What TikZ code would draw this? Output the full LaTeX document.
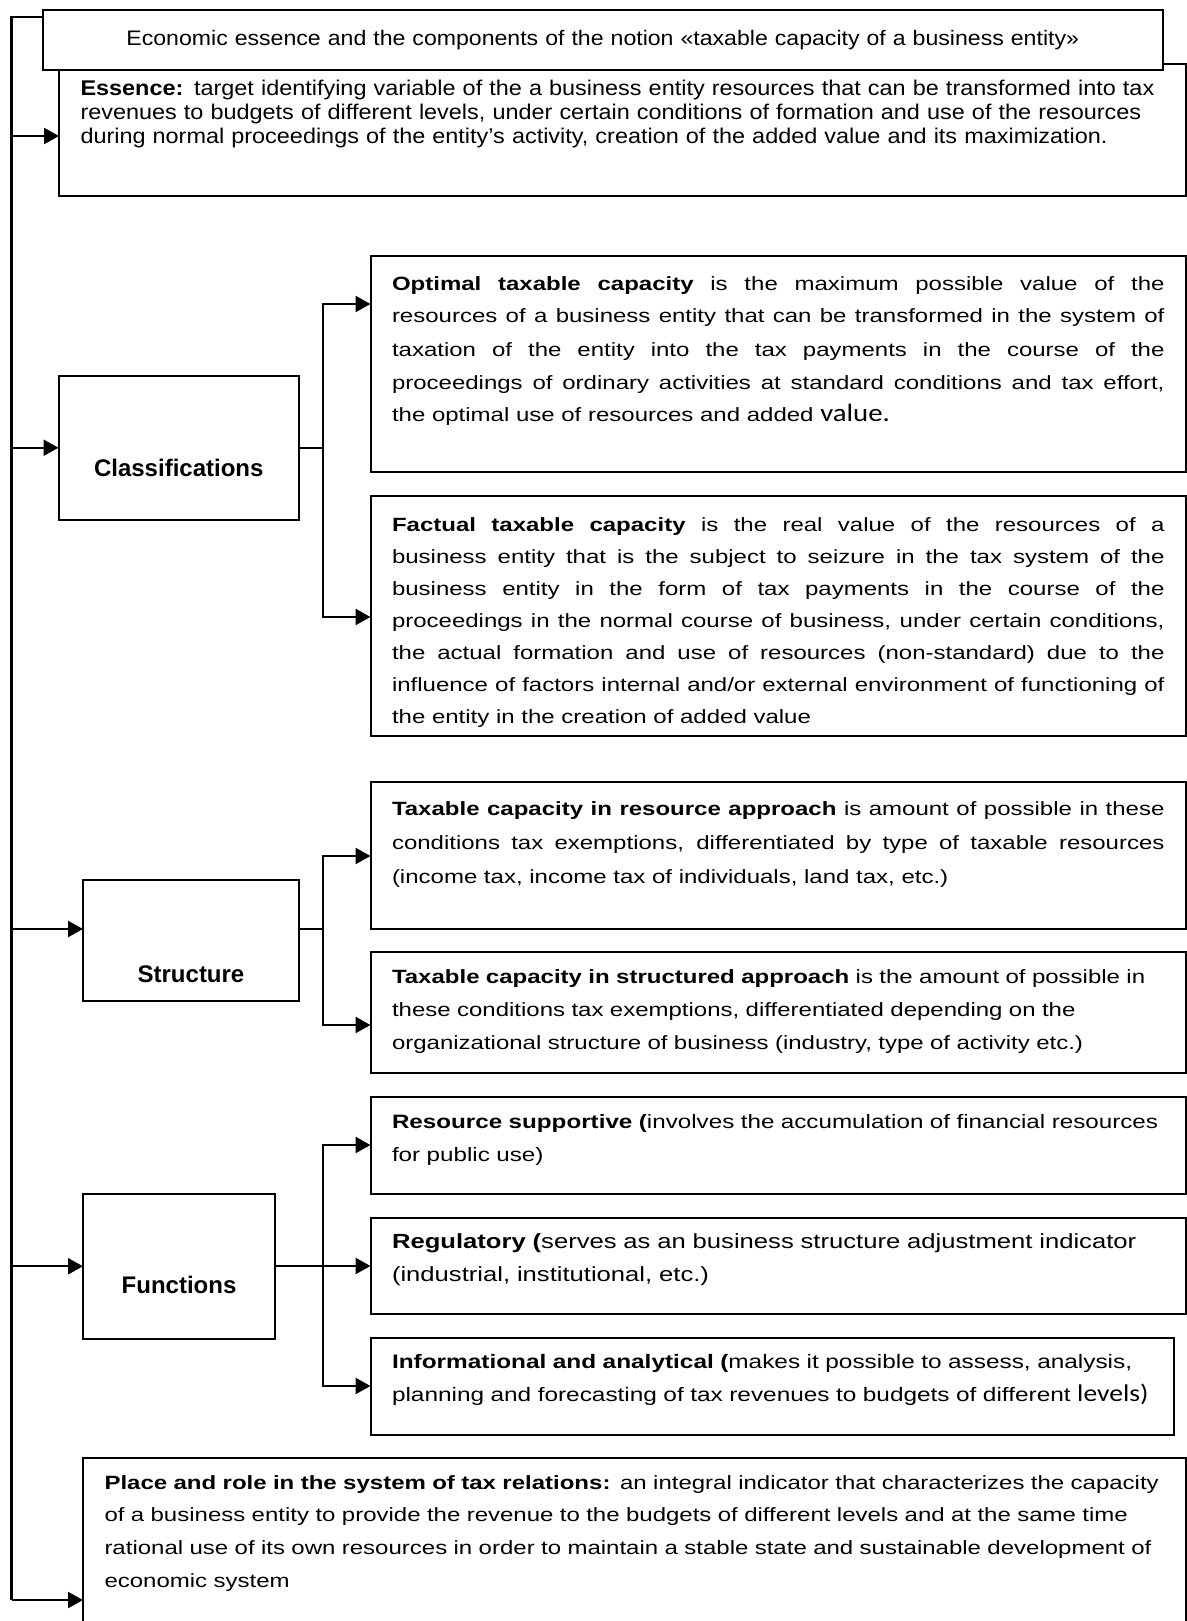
\documentclass[tikz,border=0pt]{standalone}
\usepackage{fontspec}
\setmainfont{Liberation Sans}
\newfontfamily\wide[FakeStretch=1.25]{Liberation Sans}
\newfontfamily\titlewide[FakeStretch=1.1]{Liberation Sans}
\newfontfamily\calibri[FakeStretch=1.15]{Carlito}
\usetikzlibrary{arrows.meta}

\tikzset{
  box/.style={draw, line width=1pt, fill=white, anchor=north west, outer sep=0pt,
    inner ysep=0pt, inner xsep=10.75pt, align=left},
  jbox/.style={box, align=justify},
  head/.style={draw, line width=1pt, anchor=north west, outer sep=0pt, inner sep=0pt,
    align=center, font=\bfseries\fontsize{12}{14}\selectfont},
  trunk/.style={line width=1.2pt},
  arr/.style={-{Triangle[length=7.5pt,width=8pt]}, line width=1.2pt},
  stub/.style={line width=0.6pt},
}
\newcommand\bodyfont[2]{\wide\fontsize{#1}{#2}\selectfont\lineskiplimit=-10pt\hyphenpenalty=10000\relax}

\begin{document}
\begin{tikzpicture}[x=0.5pt,y=-0.5pt]
\useasboundingbox (0,0) rectangle (1187,1621);
\clip (0,0) rectangle (1187,1621);

% essence and title
\node[box, text width=542pt, text height=16pt, text depth=50pt,
  font={\titlewide\fontsize{10.65}{11.9}\selectfont\lineskiplimit=-10pt}] (essence) at (59,64)
  {\textbf{Essence:} target identifying variable of the a business entity resources that can be transformed into tax\\
   revenues to budgets of different levels, under certain conditions of formation and use of the resources\\
   during normal proceedings of the entity’s activity, creation of the added value and its maximization.};
\node[box, inner xsep=0pt, align=center, text width=560.25pt, text height=18pt, text depth=12pt,
  font={\titlewide\fontsize{10.5}{12}\selectfont}] (title) at (42.5,10)
  {Economic essence and the components of the notion «taxable capacity of a business entity»};

% classifications
\node[head, text width=120.25pt, text height=50.5pt, text depth=21.75pt] (classif) at (58.5,375.5) {Classifications};
\node[jbox, text width=386.25pt, text height=17pt, text depth=91pt, font=\bodyfont{9.6}{16.5}] (optimal) at (370.5,256)
  {\textbf{Optimal taxable capacity} is the maximum possible value of the\linebreak
   resources of a business entity that can be transformed in the system of\linebreak
   taxation of the entity into the tax payments in the course of the\linebreak
   proceedings of ordinary activities at standard conditions and tax effort,\linebreak
   the optimal use of resources and added {\calibri\fontsize{12.5}{14}\selectfont value.}};
\node[jbox, text width=386.25pt, text height=17.5pt, text depth=102.5pt, font=\bodyfont{9.6}{16}] (factual) at (370.5,496)
  {\textbf{Factual taxable capacity} is the real value of the resources of a\linebreak
   business entity that is the subject to seizure in the tax system of the\linebreak
   business entity in the form of tax payments in the course of the\linebreak
   proceedings in the normal course of business, under certain conditions,\linebreak
   the actual formation and use of resources (non-standard) due to the\linebreak
   influence of factors internal and/or external environment of functioning of\linebreak
   the entity in the creation of added value};

% structure
\node[head, text width=108pt, text height=51pt, text depth=9.5pt] (struct) at (83,880) {Structure};
\node[jbox, text width=386.25pt, text height=16.5pt, text depth=57pt, font=\bodyfont{9.6}{17}] (resappr) at (370.5,782)
  {\textbf{Taxable capacity in resource approach} is amount of possible in these\linebreak
   conditions tax exemptions, differentiated by type of taxable resources\linebreak
   (income tax, income tax of individuals, land tax, etc.)};
\node[box, text width=386.25pt, text height=15.5pt, text depth=45pt, font=\bodyfont{9.6}{16.5}] (strappr) at (370.5,952)
  {\textbf{Taxable capacity in structured approach} is the amount of possible in\\
   these conditions tax exemptions, differentiated depending on the\\
   organizational structure of business (industry, type of activity etc.)};

% functions
\node[head, text width=96pt, text height=49.5pt, text depth=22.75pt] (func) at (83,1194) {Functions};
\node[box, text width=386.25pt, text height=15.5pt, text depth=33pt, font=\bodyfont{9.68}{16.5}] (ressup) at (370.5,1097)
  {\textbf{Resource supportive (}involves the accumulation of financial resources\\
   for public use)};
\node[box, text width=386.25pt, text height=15pt, text depth=33pt, font=\bodyfont{10.25}{16.5}] (regul) at (370.5,1218)
  {\textbf{Regulatory (}serves as an business structure adjustment indicator\\
   (industrial, institutional, etc.)};
\node[box, text width=380.25pt, text height=15pt, text depth=33.5pt, font=\bodyfont{9.75}{16.5}] (inform) at (370.5,1338)
  {\textbf{Informational and analytical (}makes it possible to assess, analysis,\\
   planning and forecasting of tax revenues to budgets of different {\calibri\fontsize{12}{14}\selectfont levels)}};

% place and role
\node[box, text width=530pt, text height=15.5pt, text depth=75.5pt, font=\bodyfont{9.6}{16.4}] (place) at (83,1458)
  {\textbf{Place and role in the system of tax relations:} an integral indicator that characterizes the capacity\\
   of a business entity to provide the revenue to the budgets of different levels and at the same time\\
   rational use of its own resources in order to maintain a stable state and sustainable development of\\
   economic system};

% left trunk
\coordinate (top) at (11.5,17);
\coordinate (bottom) at (11.5,1600);
\draw[trunk] (title.west |- top) -- (top) -- (bottom);
\draw[arr] (top |- 0,136) -- (essence.west |- 0,136);
\draw[arr] (top |- classif.west) -- (classif.west);
\draw[arr] (top |- 0,929) -- (struct.west |- 0,929);
\draw[arr] (top |- func.west) -- (func.west);
\draw[arr] (bottom) -- (place.west |- bottom);

% branches
\coordinate (b1) at (322.7,448);
\coordinate (b2) at (322.7,929);
\coordinate (b3) at (322.7,1266);
\draw[stub] (classif.east |- b1) -- (b1);
\draw[arr] (b1) -- (b1 |- 0,304) -- (optimal.west |- 0,304);
\draw[arr] (b1) -- (b1 |- 0,617) -- (factual.west |- 0,617);
\draw[stub] (struct.east |- b2) -- (b2);
\draw[arr] (b2) -- (b2 |- 0,856) -- (resappr.west |- 0,856);
\draw[arr] (b2) -- (b2 |- 0,1025) -- (strappr.west |- 0,1025);
\draw[stub] (func.east |- b3) -- (b3);
\draw[arr] (b3) -- (b3 |- 0,1145) -- (ressup.west |- 0,1145);
\draw[arr] (b3) -- (regul.west |- b3);
\draw[arr] (b3) -- (b3 |- 0,1386) -- (inform.west |- 0,1386);
\end{tikzpicture}
\end{document}
